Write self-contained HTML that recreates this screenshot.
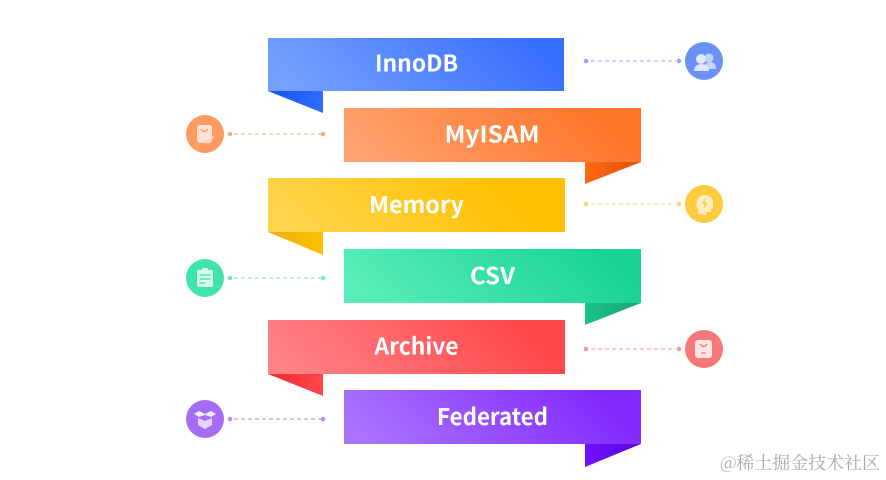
<!DOCTYPE html>
<html><head><meta charset="utf-8"><style>
html,body{margin:0;padding:0;background:#fff;width:886px;height:480px;overflow:hidden}
svg{display:block}
text{font-family:"Noto Sans CJK SC","Liberation Sans",sans-serif;font-weight:700;fill:#fff;font-size:23px}
</style></head><body>
<svg width="886" height="480" viewBox="0 0 886 480" xmlns="http://www.w3.org/2000/svg">
<defs>
<linearGradient id="b1" gradientUnits="userSpaceOnUse" x1="268" y1="91" x2="443" y2="-84"><stop offset="0.08" stop-color="#74a1ff"/><stop offset="0.88" stop-color="#3a70ff"/></linearGradient>
<linearGradient id="b2" gradientUnits="userSpaceOnUse" x1="344" y1="162" x2="519" y2="-13"><stop offset="0.08" stop-color="#ffa26e"/><stop offset="0.88" stop-color="#ff7427"/></linearGradient>
<linearGradient id="b3" gradientUnits="userSpaceOnUse" x1="268" y1="232" x2="443" y2="57"><stop offset="0.08" stop-color="#ffd54e"/><stop offset="0.8" stop-color="#ffc000"/></linearGradient>
<linearGradient id="b4" gradientUnits="userSpaceOnUse" x1="344" y1="303" x2="519" y2="128"><stop offset="0.08" stop-color="#58eeb8"/><stop offset="0.88" stop-color="#18d394"/></linearGradient>
<linearGradient id="b5" gradientUnits="userSpaceOnUse" x1="268" y1="374" x2="443" y2="199"><stop offset="0.08" stop-color="#ff8285"/><stop offset="0.88" stop-color="#ff464a"/></linearGradient>
<linearGradient id="b6" gradientUnits="userSpaceOnUse" x1="344" y1="444" x2="519" y2="269"><stop offset="0.08" stop-color="#aa72ff"/><stop offset="0.88" stop-color="#8229ff"/></linearGradient>
<linearGradient id="f1" x1="0" y1="0" x2="1" y2="0"><stop offset="0" stop-color="#1550ee"/><stop offset="1" stop-color="#2f6cff"/></linearGradient>
<linearGradient id="f2" x1="0" y1="0" x2="1" y2="0"><stop offset="0" stop-color="#ff6a12"/><stop offset="1" stop-color="#e0500a"/></linearGradient>
<linearGradient id="f3" x1="0" y1="0" x2="1" y2="0"><stop offset="0" stop-color="#e8ae10"/><stop offset="1" stop-color="#ffc000"/></linearGradient>
<linearGradient id="f4" x1="0" y1="0" x2="1" y2="0"><stop offset="0" stop-color="#1cc088"/><stop offset="1" stop-color="#12a877"/></linearGradient>
<linearGradient id="f5" x1="0" y1="0" x2="1" y2="0"><stop offset="0" stop-color="#f02a2e"/><stop offset="1" stop-color="#ff4649"/></linearGradient>
<linearGradient id="f6" x1="0" y1="0" x2="1" y2="0"><stop offset="0" stop-color="#7010ff"/><stop offset="1" stop-color="#5a08d8"/></linearGradient>
</defs>

<!-- banners -->
<polygon points="268,91 323,91 323,113" fill="url(#f1)"/>
<rect x="268" y="38" width="296" height="53" fill="url(#b1)"/>
<text x="416.500" y="71.500" text-anchor="middle" textLength="83" lengthAdjust="spacingAndGlyphs">InnoDB</text>

<polygon points="585,162 641,162 585,184" fill="url(#f2)"/>
<rect x="344" y="108" width="297" height="54" fill="url(#b2)"/>
<text x="492" y="142.500" text-anchor="middle" textLength="95" lengthAdjust="spacingAndGlyphs">MyISAM</text>

<polygon points="268,232 323,232 323,255" fill="url(#f3)"/>
<rect x="268" y="178" width="297" height="54" fill="url(#b3)"/>
<text x="416.500" y="213" text-anchor="middle" textLength="95" lengthAdjust="spacingAndGlyphs">Memory</text>

<polygon points="585,303 641,303 585,325" fill="url(#f4)"/>
<rect x="344" y="249" width="297" height="54" fill="url(#b4)"/>
<text x="492.500" y="284" text-anchor="middle" textLength="45" lengthAdjust="spacingAndGlyphs">CSV</text>

<polygon points="268,374 323,374 323,396" fill="url(#f5)"/>
<rect x="268" y="320" width="297" height="54" fill="url(#b5)"/>
<text x="416.500" y="354.500" text-anchor="middle" textLength="84" lengthAdjust="spacingAndGlyphs">Archive</text>

<polygon points="585,444 641,444 585,467" fill="url(#f6)"/>
<rect x="344" y="390" width="297" height="54" fill="url(#b6)"/>
<text x="492.500" y="425" text-anchor="middle" textLength="111" lengthAdjust="spacingAndGlyphs">Federated</text>

<!-- connectors -->
<g stroke-width="1.300" stroke-dasharray="4 3" fill="none">
<line x1="591" y1="61" x2="676" y2="61" stroke="#a3b9f6"/>
<line x1="234" y1="134" x2="321" y2="134" stroke="#f8c0a2"/>
<line x1="591" y1="204" x2="676" y2="204" stroke="#fbdc8a"/>
<line x1="234" y1="278" x2="321" y2="278" stroke="#9aeacd"/>
<line x1="591" y1="349" x2="676" y2="349" stroke="#f5aeae"/>
<line x1="234" y1="419" x2="321" y2="419" stroke="#c29ef0"/>
</g>
<g fill="#8fa8f2"><circle cx="586" cy="61" r="2.300"/><circle cx="679" cy="61" r="2.300"/></g>
<g fill="#f6ab80"><circle cx="230" cy="134" r="2.300"/><circle cx="323" cy="134" r="2.300"/></g>
<g fill="#f8d77c"><circle cx="586" cy="204" r="2.300"/><circle cx="679" cy="204" r="2.300"/></g>
<g fill="#7ce6c2"><circle cx="230" cy="278" r="2.300"/><circle cx="323" cy="278" r="2.300"/></g>
<g fill="#ef9c9c"><circle cx="586" cy="349" r="2.300"/><circle cx="679" cy="349" r="2.300"/></g>
<g fill="#bd8ef0"><circle cx="230" cy="419" r="2.300"/><circle cx="323" cy="419" r="2.300"/></g>

<!-- icon circles -->
<circle cx="704" cy="61" r="19" fill="#6b90f6"/>
<circle cx="205" cy="134" r="19" fill="#ff9a60"/>
<circle cx="704" cy="204" r="19" fill="#ffcb3e"/>
<circle cx="205" cy="278" r="19" fill="#3fe4ac"/>
<circle cx="704" cy="349" r="19" fill="#f97679"/>
<circle cx="205" cy="419" r="19" fill="#a56cf6"/>

<!-- users icon -->
<circle cx="709" cy="58" r="4.500" fill="#c3d3fc"/>
<path d="M704 69 C704 63 708 62 711 62 C714 62 716 65 716 69 Z" fill="#c3d3fc"/>
<circle cx="701" cy="59" r="5" fill="#dfe8fe"/>
<path d="M694 71 C694 66 698 64 701 64 C705 64 709 66 709 71 Z" fill="#dfe8fe"/>
<!-- bag check icon -->
<rect x="197" y="125" width="15" height="18" rx="3" fill="#ffe3d2"/>
<path d="M201 129 Q204.500 134 208 129" stroke="#ff9a60" stroke-width="1.500" fill="none"/>
<path d="M205 140 L208 143 L214 136" stroke="#ffd5bd" stroke-width="1.500" fill="none"/>
<!-- head bulb icon -->
<path d="M698 214 V209 C695 205 696 196 704 195 C711 195 714 200 713 205 L713 208 L711 209 V212 H706 V215 Z" fill="#ffedc0"/>
<path d="M705 198 L702 204 H705 L703 209 L708 203 H705 Z" fill="#ffcb3e"/>
<!-- clipboard icon -->
<rect x="197" y="270" width="16" height="17" rx="1.500" fill="#d8faed"/>
<rect x="202" y="268" width="6" height="4" rx="1" fill="#d8faed"/>
<g stroke="#3fe4ac" stroke-width="1.300"><line x1="199.500" y1="275" x2="210.500" y2="275"/><line x1="199.500" y1="279" x2="210.500" y2="279"/><line x1="199.500" y1="283" x2="205" y2="283"/></g>
<!-- bag icon -->
<rect x="695" y="340" width="17" height="18" rx="3" fill="#ffe6e6"/>
<path d="M700 344 Q703.500 349 707 344" stroke="#f97679" stroke-width="1.500" fill="none"/>
<line x1="701" y1="353" x2="706" y2="353" stroke="#f97679" stroke-width="1.300"/>
<!-- box icon -->
<path d="M198 418 L205 421 L212 418 V425 L205 429 L198 425 Z" fill="#e6d4fd"/>
<path d="M194 414 L199 411 L205 414 L211 411 L216 414 L211 417 L205 415 L199 417 Z" fill="#f3eafe"/>

<!-- watermark -->
<text x="720" y="469" style="font-family:'Noto Serif CJK SC','Liberation Serif',serif;font-weight:400;font-size:17.500px;fill:#a9a9a9" textLength="160" lengthAdjust="spacingAndGlyphs">@稀土掘金技术社区</text>
</svg>
</body></html>
